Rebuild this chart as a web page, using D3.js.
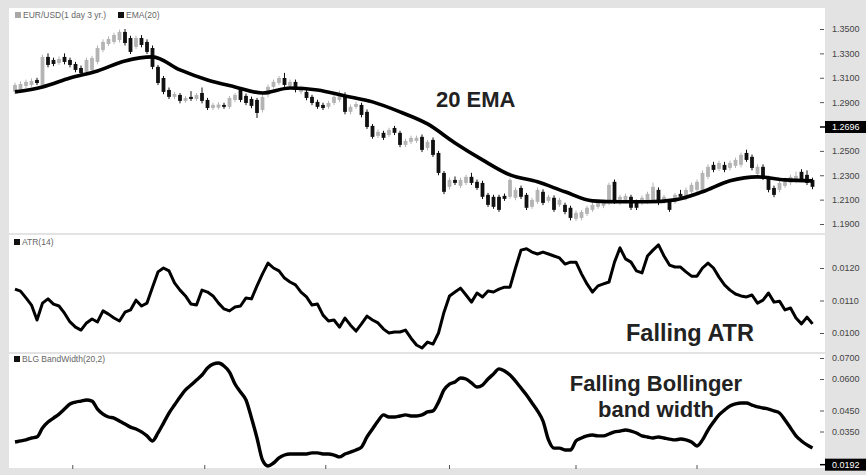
<!DOCTYPE html>
<html>
<head>
<meta charset="utf-8">
<script src="https://cdn.jsdelivr.net/npm/d3@7/dist/d3.min.js"></script>
<style>
html,body{margin:0;padding:0;background:#e4e4e4;}
svg{display:block;font-family:"Liberation Sans",Arial,sans-serif;}
</style>
</head>
<body>
<svg id="chart" width="866" height="475"></svg>
<script>
// ---------------- DATA ----------------
const open = [1.2984,1.3008,1.3033,1.3041,1.3082,1.3025,1.3271,1.3246,1.3221,1.3271,1.3246,1.3213,1.3180,1.3148,1.3164,1.3230,1.3328,1.3377,1.3394,1.3410,
1.3476,1.3426,1.3353,1.3426,1.3394,1.3344,1.3189,1.3098,1.3000,1.2943,1.2959,1.2910,1.2943,1.2926,1.2975,1.2918,1.2852,1.2855,1.2877,1.2861,
1.2918,1.3000,1.2951,1.2926,1.2918,1.2836,1.2959,1.3025,1.3057,1.3098,1.3033,1.3066,1.2984,1.2984,1.2943,1.2902,1.2877,1.2861,1.2893,1.2918,
1.2959,1.2820,1.2861,1.2877,1.2820,1.2705,1.2623,1.2648,1.2631,1.2688,1.2648,1.2549,1.2574,1.2582,1.2615,1.2524,1.2590,1.2483,1.2319,1.2205,
1.2262,1.2213,1.2237,1.2287,1.2246,1.2237,1.2139,1.2123,1.2123,1.2131,1.2123,1.2115,1.2196,1.2139,1.2041,1.2082,1.2164,1.2090,1.2115,1.2057,
1.2057,1.2033,1.1942,1.1950,1.1983,1.2016,1.2041,1.2049,1.2073,1.2246,1.2073,1.2090,1.2123,1.2082,1.2073,1.2082,1.2098,1.2180,1.2082,1.2082,
1.2082,1.2147,1.2115,1.2164,1.2180,1.2180,1.2287,1.2385,1.2352,1.2385,1.2360,1.2377,1.2385,1.2483,1.2451,1.2311,1.2369,1.2278,1.2196,1.2180,
1.2213,1.2237,1.2254,1.2328,1.2303,1.2262];
const high = [1.3060,1.3070,1.3085,1.3095,1.3100,1.3290,1.3300,1.3265,1.3275,1.3300,1.3265,1.3230,1.3200,1.3265,1.3280,1.3365,1.3415,1.3440,1.3470,1.3495,
1.3500,1.3445,1.3445,1.3450,1.3415,1.3365,1.3205,1.3115,1.3020,1.2985,1.2975,1.2950,1.2990,1.2975,1.3020,1.2935,1.2895,1.2900,1.2895,1.2950,
1.2975,1.3020,1.2970,1.2945,1.2935,1.2960,1.3045,1.3085,1.3115,1.3140,1.3085,1.3085,1.3035,1.3000,1.2960,1.2920,1.2895,1.2910,1.2960,1.2995,
1.2980,1.2880,1.2905,1.2895,1.2840,1.2720,1.2675,1.2665,1.2690,1.2705,1.2665,1.2600,1.2625,1.2625,1.2635,1.2590,1.2610,1.2500,1.2335,1.2280,
1.2290,1.2280,1.2305,1.2320,1.2265,1.2255,1.2155,1.2140,1.2140,1.2150,1.2280,1.2200,1.2215,1.2155,1.2115,1.2200,1.2185,1.2140,1.2135,1.2115,
1.2075,1.2050,1.2010,1.2015,1.2050,1.2075,1.2090,1.2100,1.2240,1.2265,1.2140,1.2150,1.2140,1.2100,1.2135,1.2165,1.2240,1.2200,1.2140,1.2100,
1.2155,1.2180,1.2200,1.2240,1.2265,1.2340,1.2390,1.2410,1.2420,1.2410,1.2420,1.2445,1.2485,1.2510,1.2470,1.2390,1.2390,1.2295,1.2215,1.2255,
1.2280,1.2305,1.2330,1.2350,1.2340,1.2280];
const low = [1.2965,1.2990,1.3015,1.3025,1.3040,1.3010,1.3185,1.3195,1.3205,1.3210,1.3185,1.3145,1.3120,1.3130,1.3145,1.3210,1.3310,1.3360,1.3375,1.3390,
1.3365,1.3295,1.3335,1.3350,1.3295,1.3170,1.3040,1.2965,1.2925,1.2925,1.2890,1.2895,1.2910,1.2910,1.2890,1.2835,1.2835,1.2840,1.2845,1.2845,
1.2900,1.2900,1.2875,1.2850,1.2770,1.2815,1.2940,1.3010,1.3040,1.3025,1.3015,1.2980,1.2965,1.2915,1.2875,1.2845,1.2835,1.2845,1.2875,1.2900,
1.2800,1.2800,1.2845,1.2775,1.2680,1.2600,1.2605,1.2590,1.2615,1.2630,1.2530,1.2530,1.2555,1.2565,1.2490,1.2505,1.2450,1.2300,1.2145,1.2185,
1.2220,1.2195,1.2220,1.2220,1.2180,1.2105,1.2040,1.2025,1.2000,1.2090,1.2105,1.2095,1.2105,1.2015,1.2025,1.2065,1.2055,1.2075,1.2000,1.2040,
1.1980,1.1930,1.1925,1.1930,1.1965,1.2000,1.2025,1.2030,1.2055,1.2065,1.2055,1.2070,1.2015,1.2015,1.2055,1.2065,1.2080,1.2055,1.2065,1.2000,
1.2065,1.2105,1.2095,1.2145,1.2160,1.2160,1.2270,1.2325,1.2335,1.2325,1.2340,1.2360,1.2365,1.2410,1.2340,1.2295,1.2260,1.2160,1.2120,1.2160,
1.2195,1.2220,1.2235,1.2245,1.2220,1.2185];
const close = [1.3041,1.3049,1.3066,1.3074,1.3057,1.3271,1.3205,1.3213,1.3254,1.3230,1.3205,1.3164,1.3139,1.3246,1.3262,1.3344,1.3394,1.3418,1.3451,1.3476,
1.3385,1.3312,1.3426,1.3369,1.3312,1.3189,1.3057,1.2984,1.2943,1.2967,1.2910,1.2934,1.2926,1.2959,1.2910,1.2852,1.2877,1.2880,1.2861,1.2934,
1.2959,1.2918,1.2893,1.2869,1.2811,1.2943,1.3025,1.3066,1.3098,1.3041,1.3066,1.3000,1.3016,1.2934,1.2893,1.2861,1.2852,1.2893,1.2943,1.2975,
1.2820,1.2861,1.2885,1.2795,1.2696,1.2615,1.2656,1.2607,1.2672,1.2648,1.2549,1.2582,1.2607,1.2607,1.2508,1.2574,1.2467,1.2319,1.2164,1.2262,
1.2237,1.2262,1.2287,1.2237,1.2196,1.2123,1.2057,1.2041,1.2016,1.2106,1.2262,1.2180,1.2123,1.2033,1.2098,1.2180,1.2073,1.2123,1.2016,1.2098,
1.1999,1.1950,1.1991,1.1999,1.2033,1.2057,1.2073,1.2082,1.2221,1.2082,1.2123,1.2131,1.2033,1.2033,1.2115,1.2147,1.2205,1.2073,1.2123,1.2016,
1.2139,1.2123,1.2180,1.2221,1.2246,1.2319,1.2369,1.2344,1.2401,1.2344,1.2401,1.2426,1.2467,1.2426,1.2360,1.2369,1.2278,1.2180,1.2139,1.2237,
1.2262,1.2287,1.2295,1.2262,1.2237,1.2205];

// EMA(20) read every 5th session
const emaStep = 5;
const ema20 = [1.2984,1.3025,1.3098,1.3156,1.3238,1.3271,1.3164,1.3082,1.3025,1.2975,1.3016,1.3000,1.2951,1.2902,1.2820,
1.2721,1.2565,1.2426,1.2303,1.2246,1.2164,1.2090,1.2082,1.2082,1.2098,1.2164,1.2254,1.2287,1.2262,1.2254];

const atr14 = [0.01135,0.01129,0.01108,0.01086,0.01040,0.01092,0.01105,0.01089,0.01083,0.01061,0.01034,0.01018,0.01009,0.01031,0.01043,0.01034,0.01068,0.01058,0.01046,0.01037,
0.01064,0.01071,0.01101,0.01083,0.01092,0.01141,0.01188,0.01200,0.01191,0.01154,0.01132,0.01114,0.01089,0.01086,0.01132,0.01126,0.01114,0.01092,0.01074,0.01068,
0.01080,0.01083,0.01108,0.01105,0.01145,0.01182,0.01215,0.01200,0.01191,0.01169,0.01157,0.01148,0.01126,0.01111,0.01086,0.01089,0.01055,0.01037,0.01040,0.01018,
0.01046,0.01024,0.01006,0.01028,0.01052,0.01040,0.01031,0.01012,0.01000,0.01003,0.01003,0.01009,0.00984,0.00963,0.00954,0.00972,0.00966,0.01000,0.01064,0.01114,
0.01126,0.01138,0.01117,0.01095,0.01123,0.01111,0.01129,0.01126,0.01135,0.01141,0.01141,0.01200,0.01255,0.01259,0.01249,0.01243,0.01249,0.01243,0.01237,0.01231,
0.01212,0.01218,0.01218,0.01182,0.01151,0.01126,0.01145,0.01151,0.01157,0.01218,0.01262,0.01228,0.01218,0.01191,0.01185,0.01237,0.01255,0.01271,0.01237,0.01209,
0.01203,0.01203,0.01188,0.01175,0.01175,0.01200,0.01215,0.01200,0.01172,0.01148,0.01132,0.01120,0.01114,0.01111,0.01117,0.01092,0.01101,0.01123,0.01095,0.01098,
0.01071,0.01077,0.01046,0.01028,0.01049,0.01028];

const bbWidth = [0.0300,0.0305,0.0310,0.0319,0.0324,0.0367,0.0395,0.0414,0.0433,0.0457,0.0481,0.0490,0.0495,0.0500,0.0495,0.0457,0.0433,0.0419,0.0414,0.0400,
0.0386,0.0371,0.0362,0.0348,0.0329,0.0305,0.0343,0.0390,0.0438,0.0476,0.0514,0.0548,0.0571,0.0595,0.0619,0.0652,0.0671,0.0676,0.0662,0.0633,
0.0576,0.0538,0.0500,0.0414,0.0319,0.0214,0.0186,0.0200,0.0224,0.0238,0.0243,0.0243,0.0243,0.0243,0.0248,0.0248,0.0243,0.0243,0.0238,0.0229,
0.0243,0.0252,0.0262,0.0276,0.0324,0.0362,0.0400,0.0429,0.0419,0.0419,0.0424,0.0429,0.0424,0.0424,0.0429,0.0443,0.0448,0.0490,0.0548,0.0576,
0.0586,0.0605,0.0600,0.0581,0.0562,0.0571,0.0600,0.0624,0.0648,0.0638,0.0619,0.0590,0.0557,0.0524,0.0486,0.0448,0.0400,0.0310,0.0271,0.0271,
0.0262,0.0262,0.0305,0.0319,0.0329,0.0333,0.0329,0.0329,0.0338,0.0348,0.0352,0.0357,0.0352,0.0343,0.0329,0.0324,0.0319,0.0324,0.0319,0.0314,
0.0310,0.0314,0.0310,0.0300,0.0281,0.0310,0.0357,0.0395,0.0429,0.0452,0.0471,0.0481,0.0486,0.0486,0.0476,0.0467,0.0462,0.0457,0.0448,0.0438,
0.0405,0.0367,0.0329,0.0305,0.0286,0.0271];

const priceTicks = [1.35,1.33,1.31,1.29,1.25,1.23,1.21,1.19];
const priceMarker = 1.2696;
const atrTicks = [0.012,0.011,0.010];
const bbTicks = [0.07,0.06,0.045,0.035];
const bbMarker = 0.0192;
const timeTicks = [10.5,34.5,56.5,79,102,124];

const legendPrice = "EUR/USD(1 day 3 yr.)";
const legendEma = "EMA(20)";
const legendAtr = "ATR(14)";
const legendBb = "BLG BandWidth(20,2)";

// ---------------- DRAW ----------------
const svg = d3.select("#chart");
const N = close.length;
const x = d3.scaleLinear().domain([0, N-1]).range([15, 812.5]);
const yP = d3.scaleLinear().domain([1.19, 1.35]).range([224, 29]);
const yA = d3.scaleLinear().domain([0.010, 0.012]).range([333, 268]);
const yB = d3.scaleLinear().domain([0.035, 0.07]).range([431.5, 358]);

// background & panels
svg.append("rect").attr("x",0).attr("y",0).attr("width",866).attr("height",475).attr("fill","#e3e3e3");
const panels = [[9,8,816,225],[9,235,816,117],[9,354,816,114]];
panels.forEach(p=>svg.append("rect").attr("x",p[0]).attr("y",p[1]).attr("width",p[2]).attr("height",p[3]).attr("fill","#ffffff"));

const up = "#b4b4b4", down = "#111111";
// candles
const cg = svg.append("g");
d3.range(N).forEach(i=>{
  const isUp = close[i] >= open[i];
  const col = isUp ? up : down;
  cg.append("line").attr("x1",x(i)).attr("x2",x(i)).attr("y1",yP(high[i])).attr("y2",yP(low[i]))
    .attr("stroke",col).attr("stroke-width",1);
  const t = yP(Math.max(open[i],close[i])), b = yP(Math.min(open[i],close[i]));
  cg.append("rect").attr("x",x(i)-1.9).attr("width",3.8).attr("y",t).attr("height",Math.max(1.5,b-t)).attr("fill",col);
});

// EMA
svg.append("path").datum(ema20)
  .attr("d", d3.line().x((d,i)=>x(i*emaStep)).y(d=>yP(d)).curve(d3.curveMonotoneX))
  .attr("fill","none").attr("stroke","#000").attr("stroke-width",3.6).attr("stroke-linejoin","round");

// ATR
svg.append("path").datum(atr14)
  .attr("d", d3.line().x((d,i)=>x(i)).y(d=>yA(d)))
  .attr("fill","none").attr("stroke","#000").attr("stroke-width",3).attr("stroke-linejoin","round");

// BB width
svg.append("path").datum(bbWidth)
  .attr("d", d3.line().x((d,i)=>x(i)).y(d=>yB(d)).curve(d3.curveMonotoneX))
  .attr("fill","none").attr("stroke","#000").attr("stroke-width",3.4).attr("stroke-linejoin","round");

// right axes
function rightAxis(scale, ticks, fmt){
  const g = svg.append("g").attr("transform","translate(820,0)")
    .call(d3.axisRight(scale).tickValues(ticks).tickSize(4).tickPadding(8).tickFormat(fmt));
  g.select(".domain").remove();
  g.selectAll(".tick line").attr("stroke","#555");
  g.selectAll(".tick text").attr("fill","#444").style("font-size","9px").style("font-family","Liberation Sans, Arial, sans-serif");
}
rightAxis(yP, priceTicks, d3.format(".4f"));
rightAxis(yA, atrTicks, d3.format(".4f"));
rightAxis(yB, bbTicks, d3.format(".4f"));

function marker(yv, label){
  svg.append("line").attr("x1",820).attr("x2",826).attr("y1",yv).attr("y2",yv).attr("stroke","#000").attr("stroke-width",1.5);
  svg.append("rect").attr("x",825).attr("y",yv-6).attr("width",41).attr("height",12).attr("fill","#000");
  svg.append("text").attr("x",832).attr("y",yv+3.3).attr("fill","#fff").style("font-size","9px").text(label);
}
marker(yP(priceMarker), d3.format(".4f")(priceMarker));
marker(yB(bbMarker), d3.format(".4f")(bbMarker));

// bottom time ticks
timeTicks.forEach(t=>{
  svg.append("line").attr("x1",x(t)).attr("x2",x(t)).attr("y1",465).attr("y2",469).attr("stroke","#555").attr("stroke-width",1);
});

// legends
function legend(xp, yp, col, txt){
  svg.append("rect").attr("x",xp).attr("y",yp-6).attr("width",6).attr("height",6).attr("fill",col);
  return svg.append("text").attr("x",xp+8).attr("y",yp).attr("fill","#666").style("font-size","8.5px").text(txt);
}
legend(15, 18, "#a8a8a8", legendPrice);
legend(118, 18, "#111", legendEma);
legend(14, 245, "#111", legendAtr);
legend(14, 362, "#111", legendBb);

// annotations
function note(xp, yp, size, txt, anchor){
  svg.append("text").attr("x",xp).attr("y",yp).attr("text-anchor",anchor||"start")
    .attr("fill","#222").style("font-size",size+"px").style("font-weight","bold").text(txt);
}
note(436, 107, 22, "20 EMA");
note(626, 341, 23.5, "Falling ATR");
note(656, 391, 22, "Falling Bollinger", "middle");
note(656, 417, 22, "band width", "middle");
</script>
</body>
</html>
